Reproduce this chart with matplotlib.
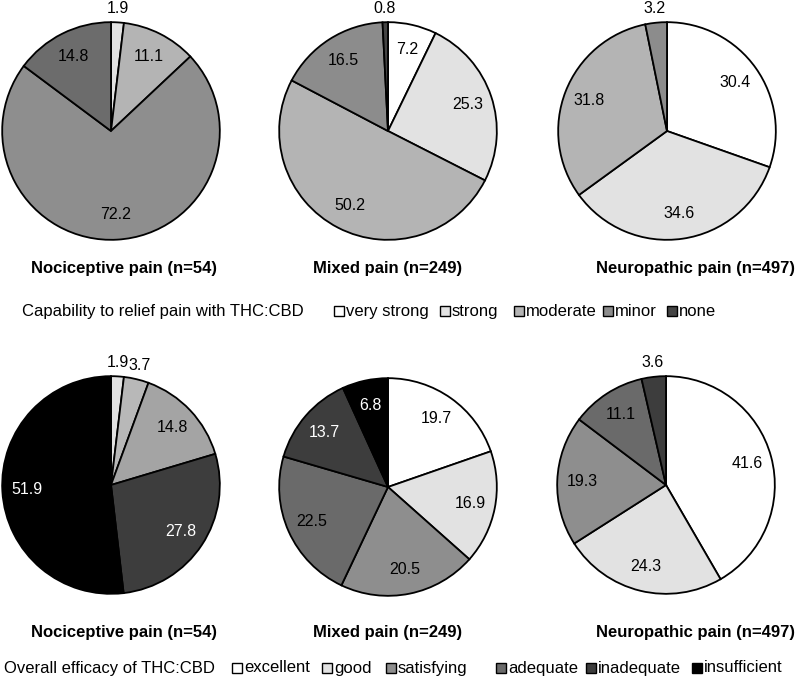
import numpy as np
import matplotlib
matplotlib.use('Agg')
import matplotlib.pyplot as plt
from matplotlib.patches import Rectangle

plt.rcParams['font.family'] = ['Liberation Sans', 'DejaVu Sans']

# groups
groups = ['Nociceptive pain (n=54)', 'Mixed pain (n=249)', 'Neuropathic pain (n=497)']

# top row: capability to relief pain
cap_title = 'Capability to relief pain with THC:CBD'
cap_cats = ['very strong', 'strong', 'moderate', 'minor', 'none']
cap_noci = [0.0, 1.9, 11.1, 72.2, 14.8]
cap_mixed = [7.2, 25.3, 50.2, 16.5, 0.8]
cap_neuro = [30.4, 34.6, 31.8, 3.2, 0.0]

# bottom row: overall efficacy
eff_title = 'Overall efficacy of THC:CBD'
eff_cats = ['excellent', 'good', 'satisfying', 'adequate', 'inadequate', 'insufficient']
eff_noci = [0.0, 1.9, 3.7, 14.8, 27.8, 51.9]
eff_mixed = [19.7, 16.9, 20.5, 22.5, 13.7, 6.8]
eff_neuro = [41.6, 24.3, 19.3, 11.1, 3.6, 0.0]

cap_colors = ['#ffffff', '#e2e2e2', '#b4b4b4', '#8c8c8c', '#444444']
eff_colors = ['#ffffff', '#e2e2e2', '#8e8e8e', '#6a6a6a', '#3d3d3d', '#000000']
# the source image shades the nociceptive pies a bit differently
cap_noci_colors = ['#ffffff', '#e2e2e2', '#b4b4b4', '#8e8e8e', '#6c6c6c']
eff_noci_colors = ['#ffffff', '#e2e2e2', '#b8b8b8', '#a4a4a4', '#3d3d3d', '#000000']

W, H = 798, 684
fig = plt.figure(figsize=(W / 100, H / 100), dpi=100)

def pie_at(cx, cy, r, vals, cols):
    ax = fig.add_axes([(cx - r) / W, 1 - (cy + r) / H, 2 * r / W, 2 * r / H])
    v = np.array(vals)
    keep = v > 0
    vk = v[keep]
    ck = [c for c, k in zip(cols, keep) if k]
    wedges, _ = ax.pie(vk, colors=ck, startangle=90, counterclock=False,
                       radius=1.0,
                       wedgeprops=dict(edgecolor='black', linewidth=1.3))
    for w, val, c in zip(wedges, vk, ck):
        ang = np.deg2rad((w.theta1 + w.theta2) / 2)
        dark = c in ('#000000', '#3d3d3d', '#444444')
        if val < 5:
            rr = 1.13
            col = 'black'
        else:
            rr = 0.77
            col = 'white' if dark else 'black'
        ax.text(rr * np.cos(ang), rr * np.sin(ang), f'{val:.1f}',
                ha='center', va='center', fontsize=11.5, color=col)
    ax.set_xlim(-1.02, 1.02)
    ax.set_ylim(-1.02, 1.02)
    ax.set_aspect('equal')
    ax.axis('off')
    return ax

r = 111
pie_at(111, 131, r, cap_noci, cap_noci_colors)
pie_at(388, 131, r, cap_mixed, cap_colors)
pie_at(667, 131, r, cap_neuro, cap_colors)

pie_at(111, 485, r, eff_noci, eff_noci_colors)
pie_at(388, 487, r, eff_mixed, eff_colors)
pie_at(666, 485, r, eff_neuro, eff_colors)

title_x = [124, 388, 695]
for x, g in zip(title_x, groups):
    fig.text(x / W, 1 - 268 / H, g, ha='center', va='center', fontsize=12, fontweight='bold')
    fig.text(x / W, 1 - 632 / H, g, ha='center', va='center', fontsize=12, fontweight='bold')

# legends, drawn as boxes + text
def legend_row(y, title, title_x, fs, cats, cols, xs):
    fig.text(title_x / W, 1 - y / H, title, ha='left', va='center', fontsize=fs)
    s = 10
    for x, lab, c in zip(xs, cats, cols):
        fig.patches.append(Rectangle((x / W, 1 - (y + s / 2) / H), s / W, s / H,
                                     facecolor=c, edgecolor='black', linewidth=1.0,
                                     transform=fig.transFigure, figure=fig))
        fig.text((x + s + 2) / W, 1 - y / H, lab, ha='left', va='center', fontsize=fs)

legend_row(311, cap_title, 22, 12, cap_cats, cap_colors, [334, 440, 514, 603, 667])
legend_row(668, eff_title, 4, 12, eff_cats, eff_colors, [232, 322, 386, 496, 586, 692])

fig.savefig('out.png', dpi=100)
